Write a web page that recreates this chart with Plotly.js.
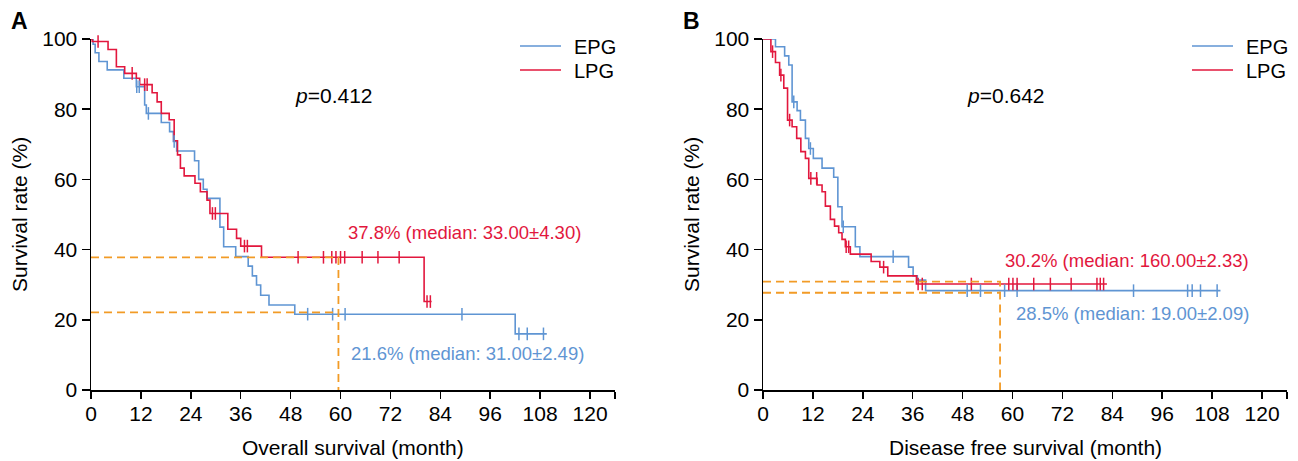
<!DOCTYPE html>
<html>
<head>
<meta charset="utf-8">
<script src="https://cdn.plot.ly/plotly-3.0.1.min.js"></script>
<style>html,body{margin:0;padding:0;background:#fff;}#chart{width:1298px;height:461px;}</style>
</head>
<body>
<div id="chart"></div>
<script>
// ---------- data ----------
const xTicks = [0, 12, 24, 36, 48, 60, 72, 84, 96, 108, 120];
const yTicks = [0, 20, 40, 60, 80, 100];
const groups = ['EPG', 'LPG'];

// Panel A: overall survival (step times in months, survival in %)
const epgOsTime = [0, 0.5, 1.0, 1.9, 3.9, 7.9, 10.9, 12.9, 13.3, 16.9, 18.9, 19.8, 20.6, 24.9, 25.9, 27.0, 27.9, 31.0, 31.9, 34.8, 37.8, 38.8, 39.8, 40.8, 42.8, 49.0, 102.0, 109.6];
const epgOsSurv = [100, 98.5, 96.1, 93.6, 91.2, 88.8, 86.4, 81.2, 78.8, 76.2, 73.6, 70.8, 68.1, 65.3, 60.0, 57.2, 54.6, 46.4, 40.8, 38.0, 35.3, 32.5, 29.9, 27.0, 24.2, 21.6, 16.0, 16.0];
const epgOsCensor = [11.0, 11.6, 13.8, 20.0, 52.1, 58.1, 61.1, 89.2, 102.9, 104.9, 108.8];

const lpgOsTime = [0, 0.3, 4.1, 6.1, 8.1, 10.9, 11.7, 14.7, 15.9, 16.9, 18.8, 20.0, 20.8, 21.5, 22.4, 25.0, 26.3, 27.9, 28.6, 32.9, 35.0, 36.0, 41.0, 80.1, 81.9];
const lpgOsSurv = [100, 99.3, 97.0, 92.1, 90.2, 88.8, 87.0, 84.7, 82.1, 78.8, 77.0, 71.0, 67.0, 63.2, 61.0, 58.9, 56.5, 54.1, 50.3, 45.8, 43.2, 41.0, 37.8, 25.2, 25.2];
const lpgOsCensor = [1.7, 9.9, 12.9, 13.5, 29.2, 29.9, 36.9, 37.6, 49.8, 55.9, 57.9, 58.9, 60.0, 61.0, 65.2, 69.0, 74.1, 80.8, 81.6];

// Panel B: disease free survival
const epgDfsTime = [0, 3.0, 5.2, 6.2, 7.0, 8.2, 9.0, 10.2, 11.0, 12.1, 14.2, 17.0, 18.0, 19.0, 22.2, 23.3, 35.0, 36.1, 37.1, 39.1, 110.0];
const epgDfsSurv = [100, 97.8, 95.2, 92.6, 82.1, 79.6, 76.9, 71.7, 68.8, 66.0, 63.2, 60.6, 52.2, 46.5, 40.8, 38.0, 35.0, 32.5, 31.3, 28.3, 28.3];
const epgDfsCensor = [7.4, 11.4, 19.3, 31.3, 49.1, 52.3, 58.1, 61.1, 89.1, 102.1, 103.2, 105.2, 109.2];

const lpgDfsTime = [0, 1.9, 3.0, 4.0, 5.0, 5.9, 7.0, 8.1, 9.1, 10.2, 11.0, 13.0, 14.2, 15.0, 16.2, 17.2, 18.2, 19.0, 19.8, 21.0, 26.0, 28.1, 30.0, 36.9, 82.7];
const lpgDfsSurv = [100, 96.4, 93.3, 89.7, 86.0, 76.9, 75.0, 71.7, 67.9, 66.0, 60.3, 58.4, 56.5, 52.4, 48.6, 46.7, 44.8, 42.9, 40.8, 38.7, 36.6, 35.0, 32.5, 30.2, 30.2];
const lpgDfsCensor = [2.3, 4.3, 6.4, 11.5, 12.9, 20.0, 20.6, 29.0, 37.3, 38.3, 50.1, 59.1, 60.1, 61.1, 65.1, 69.1, 74.1, 80.3, 81.1, 81.9];

// Reference (dashed) guide lines: [time, upper rate, lower rate]
const osGuide = [59.5, 37.8, 22.1];
const dfsGuide = [57.0, 30.9, 27.7];

const pValues = ['0.412', '0.642'];
const rateLabelsA = ['37.8% (median: 33.00±4.30)', '21.6% (median: 31.00±2.49)'];
const rateLabelsB = ['30.2% (median: 160.00±2.33)', '28.5% (median: 19.00±2.09)'];
const xTitles = ['Overall survival (month)', 'Disease free survival (month)'];
const yTitle = 'Survival rate (%)';
const panelLetters = ['A', 'B'];

// ---------- styling ----------
const W = 1298, H = 461;
const BLUE = '#5f95d3', RED = '#e2173d', ORANGE = '#f29b26';
const FONT = 'Liberation Sans, Arial, sans-serif';
const px = v => v / W;            // paper x from pixels
const py = v => 1 - v / H;        // paper y from pixels
const yDom = [py(390), py(39)];
const xDomA = [px(91), px(615)];
const xDomB = [px(763), px(1287)];

function stepAt(times, surv, t) {
  let v = surv[0];
  for (let i = 0; i < times.length; i++) { if (times[i] <= t) v = surv[i]; }
  return v;
}
function curve(times, surv, color, xa, ya, name) {
  return {x: times, y: surv, type: 'scatter', mode: 'lines', name: name,
    line: {shape: 'hv', color: color, width: 1.6}, xaxis: xa, yaxis: ya,
    showlegend: false, cliponaxis: false, hoverinfo: 'skip'};
}
function censor(times, surv, cens, color, xa, ya) {
  return {x: cens, y: cens.map(t => stepAt(times, surv, t)), type: 'scatter', mode: 'markers',
    marker: {symbol: 'line-ns', size: 9, color: color, line: {color: color, width: 1.5}},
    xaxis: xa, yaxis: ya, showlegend: false, cliponaxis: false, hoverinfo: 'skip'};
}
function guides(g, xa, ya) {
  const st = {type: 'scatter', mode: 'lines', xaxis: xa, yaxis: ya, showlegend: false,
    hoverinfo: 'skip', cliponaxis: false, line: {color: ORANGE, width: 1.8, dash: '8px,5px'}};
  return [
    Object.assign({}, st, {x: [0, g[0], g[0]], y: [g[1], g[1], 0]}),
    Object.assign({}, st, {x: [0, g[0]], y: [g[2], g[2]]})
  ];
}

const traces = [
  curve(epgOsTime, epgOsSurv, BLUE, 'x', 'y', groups[0]),
  curve(lpgOsTime, lpgOsSurv, RED, 'x', 'y', groups[1]),
  censor(epgOsTime, epgOsSurv, epgOsCensor, BLUE, 'x', 'y'),
  censor(lpgOsTime, lpgOsSurv, lpgOsCensor, RED, 'x', 'y'),
  ...guides(osGuide, 'x', 'y'),
  curve(epgDfsTime, epgDfsSurv, BLUE, 'x2', 'y2', groups[0]),
  curve(lpgDfsTime, lpgDfsSurv, RED, 'x2', 'y2', groups[1]),
  censor(epgDfsTime, epgDfsSurv, epgDfsCensor, BLUE, 'x2', 'y2'),
  censor(lpgDfsTime, lpgDfsSurv, lpgDfsCensor, RED, 'x2', 'y2'),
  ...guides(dfsGuide, 'x2', 'y2')
];

function xAxis(dom, anchor) {
  return {domain: dom, anchor: anchor, range: [0, 126], tickmode: 'array',
    tickvals: xTicks.concat([126]), ticktext: xTicks.map(String).concat(['']),
    ticks: 'outside', ticklen: 7, tickwidth: 1.5, tickcolor: '#000', ticklabelstandoff: -3,
    showline: true, linecolor: '#000', linewidth: 1.5, showgrid: false, zeroline: false,
    tickfont: {family: FONT, size: 21, color: '#000'}, fixedrange: true};
}
function yAxis(anchor) {
  return {domain: yDom, anchor: anchor, range: [0, 100], tickmode: 'array',
    tickvals: yTicks, ticks: 'outside', ticklen: 8, tickwidth: 1.5, tickcolor: '#000',
    showline: true, linecolor: '#000', linewidth: 1.5, showgrid: false, zeroline: false,
    tickfont: {family: FONT, size: 21, color: '#000'}, fixedrange: true};
}

const ann = [];
const shapes = [];
function txt(x, y, text, opts) {
  ann.push(Object.assign({x: x, y: y, xref: 'paper', yref: 'paper', text: text, showarrow: false,
    xanchor: 'left', yanchor: 'middle', font: {family: FONT, size: 21, color: '#000'}}, opts || {}));
}
[[0, 'x', 'y'], [1, 'x2', 'y2']].forEach(([i, xa, ya]) => {
  const x0 = i === 0 ? 91 : 763;
  txt(px(x0 - 82), py(21), '<b>' + panelLetters[i] + '</b>', {font: {family: FONT, size: 23, color: '#000'}});
  txt(px(x0 + 262), py(447), xTitles[i], {xanchor: 'center'});
  txt(px(x0 - 71), py(215), yTitle, {xanchor: 'center', textangle: -90});
  ann.push({x: 48.6, y: 84, xref: xa, yref: ya, text: '<i>p</i>=' + pValues[i], showarrow: false,
    xanchor: 'left', yanchor: 'middle', font: {family: FONT, size: 21, color: '#000'}});
  [[groups[0], BLUE, 46], [groups[1], RED, 70]].forEach(([g, c, yy]) => {
    shapes.push({type: 'line', xref: 'paper', yref: 'paper', x0: px(x0 + 429), x1: px(x0 + 470),
      y0: py(yy), y1: py(yy), line: {color: c, width: 1.3}});
    txt(px(x0 + 481), py(yy + 1), g, {font: {family: FONT, size: 20, color: '#000'}});
  });
});
const rl = [
  [rateLabelsA[0], 61.3, 45.0, RED, 'x', 'y'], [rateLabelsA[1], 62.0, 10.3, BLUE, 'x', 'y'],
  [rateLabelsB[0], 57.7, 37.0, RED, 'x2', 'y2'], [rateLabelsB[1], 60.4, 21.9, BLUE, 'x2', 'y2']
];
rl.forEach(([t, x, y, c, xa, ya]) => ann.push({x: x, y: y, xref: xa, yref: ya, text: t, showarrow: false,
  xanchor: 'left', yanchor: 'middle', font: {family: FONT, size: 18.5, color: c}}));

const layout = {
  width: W, height: H, autosize: false, margin: {l: 0, r: 0, t: 0, b: 0},
  paper_bgcolor: '#fff', plot_bgcolor: '#fff', showlegend: false,
  xaxis: xAxis(xDomA, 'y'), yaxis: yAxis('x'),
  xaxis2: xAxis(xDomB, 'y2'), yaxis2: yAxis('x2'),
  annotations: ann, shapes: shapes
};
Plotly.newPlot('chart', traces, layout, {staticPlot: true, displayModeBar: false});
</script>
</body>
</html>
